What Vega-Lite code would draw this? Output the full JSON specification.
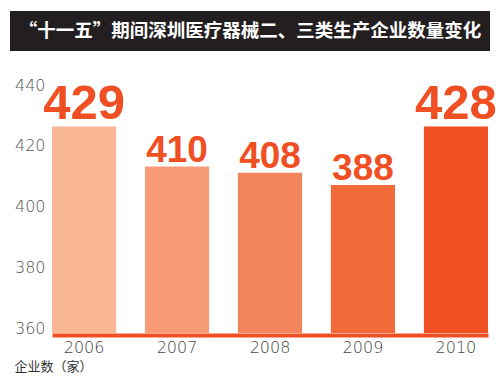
{
  "$schema": "https://vega.github.io/schema/vega-lite/v6.json",
  "background": "white",
  "padding": {"left": 10, "top": 11, "right": 0, "bottom": 0},
  "config": {"view": {"stroke": null}, "font": "Liberation Sans"},
  "datasets": {
    "title": [{"t": "“十一五”期间深圳医疗器械二、三类生产企业数量变化"}],
    "bars": [
      {"year": "2006", "value": 426.4, "label": "429"},
      {"year": "2007", "value": 413.2, "label": "410"},
      {"year": "2008", "value": 411.2, "label": "408"},
      {"year": "2009", "value": 407.1, "label": "388"},
      {"year": "2010", "value": 426.4, "label": "428"}
    ]
  },
  "columns": 1,
  "spacing": 19,
  "concat": [
    {
      "data": {"name": "title"},
      "width": 480,
      "height": 40,
      "view": {"fill": "#231f20", "stroke": null},
      "mark": {"type": "text", "color": "white", "font": "Noto Sans CJK SC", "fontWeight": "bold", "fontSize": 18.5, "baseline": "middle", "align": "center"},
      "encoding": {"text": {"field": "t"}}
    },
    {
      "data": {"name": "bars"},
      "width": 480,
      "height": 263,
      "encoding": {
        "x": {
          "field": "year", "type": "nominal", "sort": null,
          "scale": {"paddingInner": 0.31, "paddingOuter": 0.2367, "align": 0.9545},
          "axis": {
            "title": "企业数（家）", "titleFont": "Noto Sans CJK SC", "titleFontSize": 13, "titleFontWeight": "normal",
            "titleColor": "#333", "titleAnchor": "start", "titleAlign": "left", "titleBaseline": "middle", "titleX": 4, "titleY": 31,
            "ticks": false, "domainColor": "#f04e23", "domainWidth": 4, "domainCap": "butt", "domainDash": [0, 42, 436, 10], "offset": 2,
            "labelFont": "DejaVu Sans ExtraLight, DejaVu Sans", "labelFontWeight": 300, "labelFontSize": 16, "labelColor": "#444", "labelPadding": 4, "labelAngle": 0
          }
        },
        "y": {
          "field": "value", "type": "quantitative",
          "scale": {"domain": [358.4, 445], "zero": false, "nice": false},
          "axis": {
            "values": [360, 380, 400, 420, 440], "title": null, "domain": false, "ticks": false, "grid": false,
            "labelFont": "DejaVu Sans ExtraLight, DejaVu Sans", "labelFontWeight": 300, "labelFontSize": 16, "labelColor": "#555",
            "labelAlign": "right", "labelPadding": -35
          }
        }
      },
      "layer": [
        {
          "mark": {"type": "bar"},
          "encoding": {
            "y2": {"datum": 358.4},
            "color": {"field": "year", "type": "nominal", "sort": null,
              "scale": {"domain": ["2006", "2007", "2008", "2009", "2010"], "range": ["#f9b795", "#f79c76", "#f4855a", "#f26a3a", "#f04e23"]},
              "legend": null}
          }
        },
        {
          "mark": {"type": "text", "baseline": "bottom", "dy": 3, "color": "#f04e23", "font": "Liberation Sans", "fontWeight": "bold"},
          "encoding": {
            "text": {"field": "label"},
            "size": {"condition": {"test": "datum.year === '2006' || datum.year === '2010'", "value": 49}, "value": 37}
          }
        }
      ]
    }
  ]
}
